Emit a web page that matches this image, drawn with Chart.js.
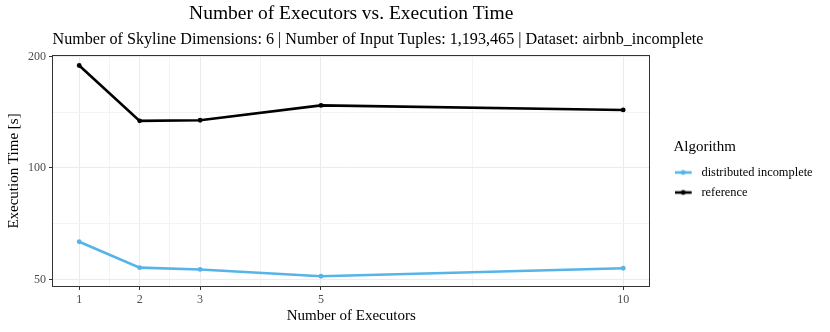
<!DOCTYPE html>
<html><head><meta charset="utf-8">
<script src="https://cdn.jsdelivr.net/npm/chart.js@4"></script>
<style>html,body{margin:0;padding:0;background:#fff}canvas{display:block}</style>
</head><body>
<canvas id="c" width="830" height="332"></canvas>
<script>
const executors = [1, 2, 3, 5, 10];
const distributedIncomplete = [63.2, 53.8, 53.2, 51.0, 53.6];
const referenceTimes = [189, 134, 134.5, 147.5, 143.4];
const seriesNames = ['distributed incomplete', 'reference'];
const seriesColors = ['#56B4E9', '#000000'];
const xMajorTicks = [1, 2, 3, 5, 10];
const xMinorTicks = [1.5, 2.5, 4, 7.5];
const yMajorTicks = [50, 100, 200];
const yMinorTicks = [70.71, 141.42];
const titleText = 'Number of Executors vs. Execution Time';
const subtitleText = 'Number of Skyline Dimensions: 6 | Number of Input Tuples: 1,193,465 | Dataset: airbnb_incomplete';
const xTitle = 'Number of Executors';
const yTitle = 'Execution Time [s]';
const legendTitle = 'Algorithm';

const FONT = "'Liberation Serif', 'Times New Roman', serif";
const LEGEND_FS = 12.4;
const LEGEND_PAD = 7.6;
const LEGEND_BOX = 14.2;

// layout: plot panel right edge near x=649, subtitle centred at x=378
const mctx = document.createElement('canvas').getContext('2d');
mctx.font = 'normal ' + LEGEND_FS + 'px ' + FONT;
const legendTextW = Math.max.apply(null, seriesNames.map(s => mctx.measureText(s).width));
const legendW = LEGEND_PAD + LEGEND_BOX + LEGEND_FS / 2 + legendTextW + 10;
const GAP = 23;
const PAD_R = 830 - 649 - GAP - legendW;
const PAD_L = PAD_R - 74;

function legendSymbol(color) {
  const cv = document.createElement('canvas');
  cv.width = 27; cv.height = 8;
  const g = cv.getContext('2d');
  g.strokeStyle = color; g.lineWidth = 2.6;
  g.beginPath(); g.moveTo(0, 4); g.lineTo(17, 4); g.stroke();
  g.fillStyle = color;
  g.beginPath(); g.arc(8.5, 4, 2.4, 0, Math.PI * 2); g.fill();
  return cv;
}
const legendImgs = seriesColors.map(legendSymbol);

const isMajorX = v => xMajorTicks.includes(v);
const isMajorY = v => yMajorTicks.includes(v);

const panelBorder = {
  id: 'panelBorder',
  afterDraw(chart) {
    const a = chart.chartArea, g = chart.ctx;
    g.save();
    g.strokeStyle = '#333333'; g.lineWidth = 1;
    g.strokeRect(Math.round(a.left) + 0.5, Math.round(a.top) + 0.5, Math.round(a.right - a.left) - 1, Math.round(a.bottom - a.top) - 1);
    g.restore();
  }
};

const datasets = [distributedIncomplete, referenceTimes].map((vals, i) => ({
  label: seriesNames[i],
  data: executors.map((x, j) => ({ x: x, y: vals[j] })),
  borderColor: seriesColors[i],
  backgroundColor: seriesColors[i],
  borderWidth: 2.6,
  pointRadius: 2.4,
  pointBorderWidth: 0,
  pointHoverRadius: 2.4,
  tension: 0
}));

new Chart(document.getElementById('c'), {
  type: 'line',
  data: { datasets },
  plugins: [panelBorder],
  options: {
    responsive: false,
    animation: false,
    devicePixelRatio: 1,
    layout: { padding: { left: PAD_L, right: PAD_R, top: 0, bottom: 0 } },
    scales: {
      x: {
        type: 'linear', min: 0.55, max: 10.45,
        afterBuildTicks: s => { s.ticks = xMajorTicks.concat(xMinorTicks).sort((a, b) => a - b).map(v => ({ value: v })); },
        ticks: { autoSkip: false, maxRotation: 0, color: '#4d4d4d', font: { family: FONT, size: 12 }, padding: 3,
          callback: v => isMajorX(v) ? String(v) : '' },
        grid: {
          color: c => (c.tick && isMajorX(c.tick.value)) ? '#ebebeb' : '#f3f3f3',
          lineWidth: 1,
          tickLength: 3, tickWidth: 1,
          tickColor: c => (c.tick && isMajorX(c.tick.value)) ? '#333333' : 'rgba(0,0,0,0)'
        },
        border: { display: false },
        title: { display: true, text: xTitle, color: '#000', font: { family: FONT, size: 15 }, padding: { top: 0, bottom: 7 } },
        afterFit: s => { s.height = 45; }
      },
      y: {
        type: 'logarithmic', min: 47.7, max: 201.8,
        afterBuildTicks: s => { s.ticks = yMajorTicks.concat(yMinorTicks).sort((a, b) => a - b).map(v => ({ value: v })); },
        ticks: { autoSkip: false, color: '#4d4d4d', font: { family: FONT, size: 12 }, padding: 3,
          callback: v => isMajorY(v) ? String(v) : '' },
        grid: {
          color: c => (c.tick && isMajorY(c.tick.value)) ? '#ebebeb' : '#f3f3f3',
          lineWidth: 1,
          tickLength: 3, tickWidth: 1,
          tickColor: c => (c.tick && isMajorY(c.tick.value)) ? '#333333' : 'rgba(0,0,0,0)'
        },
        border: { display: false },
        title: { display: true, text: yTitle, color: '#000', font: { family: FONT, size: 15 }, padding: { top: 5 - PAD_L, bottom: 0 } },
        afterFit: s => { s.width = 52 - PAD_L; }
      },
      pad: {
        type: 'linear', position: 'right', display: true,
        grid: { display: false, drawTicks: false },
        border: { display: false },
        ticks: { display: false },
        afterFit: s => { s.width = GAP; }
      }
    },
    plugins: {
      title: { display: true, text: titleText, fullSize: false, color: '#000',
        font: { family: FONT, size: 19.5, weight: 'normal' }, padding: { top: 2.5, bottom: 3 } },
      subtitle: { display: true, text: subtitleText, fullSize: true, align: 'center', color: '#000',
        font: { family: FONT, size: 16.15, weight: 'normal' }, padding: { top: 1, bottom: 5.7 } },
      legend: {
        position: 'right', align: 'center', fullSize: false,
        title: { display: true, text: legendTitle, position: 'start', color: '#000',
          font: { family: FONT, size: 15 }, padding: { top: 4, bottom: 1 } },
        labels: {
          usePointStyle: true, pointStyleWidth: LEGEND_BOX, padding: LEGEND_PAD, color: '#000',
          font: { family: FONT, size: LEGEND_FS },
          generateLabels: chart => {
            const items = Chart.defaults.plugins.legend.labels.generateLabels(chart);
            items.forEach((it, i) => { it.pointStyle = legendImgs[i]; it.fontColor = '#000'; });
            return items;
          }
        }
      },
      tooltip: { enabled: false }
    }
  }
});
</script>
</body></html>
